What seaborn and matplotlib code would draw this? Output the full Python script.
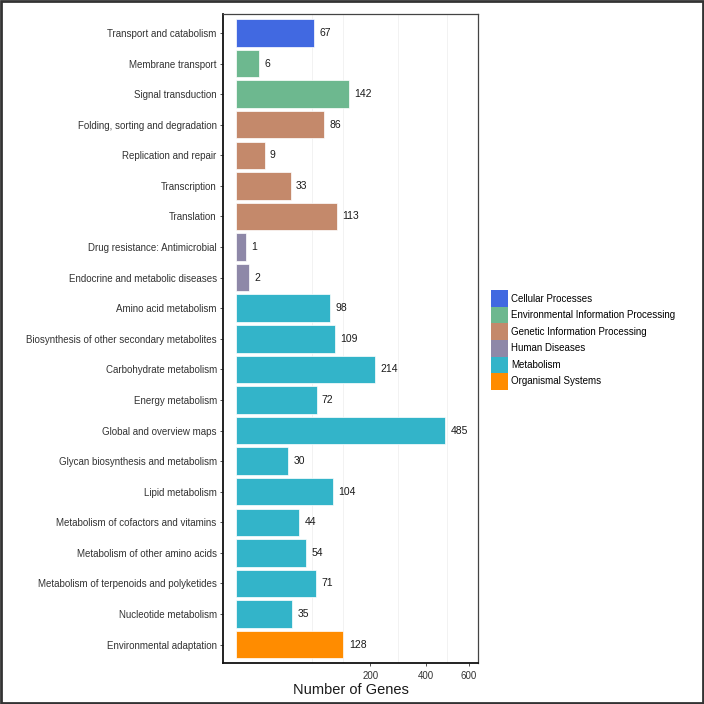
import numpy as np
import pandas as pd
import matplotlib
matplotlib.use("Agg")
import matplotlib.pyplot as plt
import matplotlib.patches as mpatches
import seaborn as sns

# KEGG pathway level-2 categories, top to bottom
pathways = [
    "Transport and catabolism", "Membrane transport", "Signal transduction",
    "Folding, sorting and degradation", "Replication and repair", "Transcription",
    "Translation", "Drug resistance: Antimicrobial", "Endocrine and metabolic diseases",
    "Amino acid metabolism", "Biosynthesis of other secondary metabolites",
    "Carbohydrate metabolism", "Energy metabolism", "Global and overview maps",
    "Glycan biosynthesis and metabolism", "Lipid metabolism",
    "Metabolism of cofactors and vitamins", "Metabolism of other amino acids",
    "Metabolism of terpenoids and polyketides", "Nucleotide metabolism",
    "Environmental adaptation",
]
gene_counts = [67, 6, 142, 86, 9, 33, 113, 1, 2, 98, 109, 214, 72, 485, 30, 104,
               44, 54, 71, 35, 128]
pathway_class = (["Cellular Processes"]
                 + ["Environmental Information Processing"] * 2
                 + ["Genetic Information Processing"] * 4
                 + ["Human Diseases"] * 2
                 + ["Metabolism"] * 11
                 + ["Organismal Systems"])
classes = ["Cellular Processes", "Environmental Information Processing",
           "Genetic Information Processing", "Human Diseases", "Metabolism",
           "Organismal Systems"]
class_colors = ["#4169E1", "#6DB88F", "#C4896B", "#8E88A8", "#33B4C9", "#FF8C00"]
x_ticks = [200, 400, 600]

df = pd.DataFrame({"Pathway": pathways, "Genes": gene_counts, "Class": pathway_class})
palette = dict(zip(classes, class_colors))

plt.rcParams['font.family'] = ['Liberation Sans', 'DejaVu Sans']

fig = plt.figure(figsize=(7.04, 7.04), dpi=100)
ax = fig.add_axes([223 / 704, 1 - 663 / 704, 255 / 704, 649 / 704])

sns.barplot(data=df, x="Genes", y="Pathway", hue="Class", order=pathways,
            hue_order=classes, palette=palette, dodge=False, width=0.9,
            saturation=1, edgecolor="white", linewidth=0.5, legend=False, ax=ax)

# signed sqrt scale (like ggplot scale_x_sqrt)
def fwd(x):
    return np.sign(x) * np.sqrt(np.abs(x))

def inv(y):
    return np.sign(y) * y ** 2

ax.set_xscale("function", functions=(fwd, inv))
ax.set_xlim(-1.88, 649)
ax.set_ylim(len(pathways) - 0.4, -0.62)

# faint vertical grid
for g in [64, 128, 291, 495]:
    ax.axvline(g, color="#F0F0F0", lw=0.6, zorder=0)

for i, v in enumerate(gene_counts):
    ax.annotate(str(v), (v, i), xytext=(3.8, 0), textcoords="offset points",
                va="center", ha="left", fontsize=7.5, color="#1a1a1a")

ax.set_xticks(x_ticks)
ax.set_xticklabels([str(t) for t in x_ticks])
ax.xaxis.set_minor_locator(matplotlib.ticker.NullLocator())
ax.tick_params(axis="x", labelsize=7, length=2.5, width=0.6, colors="#333333", pad=3)
ax.tick_params(axis="y", labelsize=7, length=2.5, width=0.6, colors="#333333", pad=2)
ax.set_xlabel("Number of Genes", fontsize=10.5, color="#1a1a1a", labelpad=1.5)
ax.set_ylabel("")

for side in ["left", "bottom"]:
    ax.spines[side].set_color("#111111")
    ax.spines[side].set_linewidth(1.3)
for side in ["top", "right"]:
    ax.spines[side].set_color("#444444")
    ax.spines[side].set_linewidth(0.9)

handles = [mpatches.Patch(facecolor=c, edgecolor="none", label=k)
           for k, c in zip(classes, class_colors)]
fig.legend(handles=handles, loc="center left", bbox_to_anchor=(491 / 704, 1 - 340 / 704),
           frameon=False, fontsize=7, handlelength=1.75, handleheight=2.24,
           handletextpad=0.3, labelspacing=0.0, borderpad=0, borderaxespad=0)

# outer frame
fig.patches.append(mpatches.Rectangle((0.0015, 0.0015), 0.997, 0.997, transform=fig.transFigure,
                                      fill=False, edgecolor="#333333", lw=2))

fig.savefig("out.png", dpi=100)
